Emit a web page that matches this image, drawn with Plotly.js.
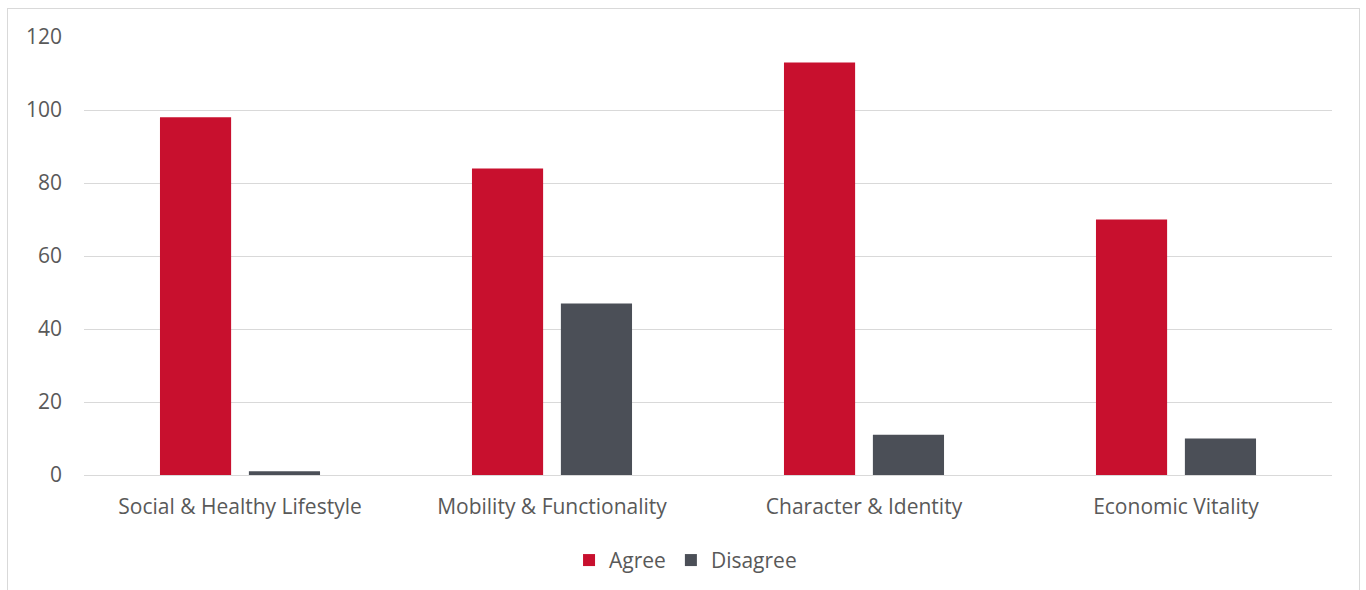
<!DOCTYPE html>
<html>
<head>
<meta charset="utf-8">
<script src="https://cdn.plot.ly/plotly-3.0.1.min.js"></script>
<style>
  html, body { margin: 0; padding: 0; background: #fff; }
  #frame { position: absolute; left: 7px; top: 8px; width: 1353px; height: 600px;
           border: 1px solid #d9d9d9; box-sizing: border-box; pointer-events: none; z-index: 5; }
  #chart { position: absolute; left: 0; top: 0; width: 1366px; height: 590px; }
</style>
</head>
<body>
<div id="chart"></div>
<div id="frame"></div>
<script>
// Survey responses per theme
const categories = ["Social & Healthy Lifestyle", "Mobility & Functionality", "Character & Identity", "Economic Vitality"];
const agree = [98, 84, 113, 70];
const disagree = [1, 47, 11, 10];
const yTicks = [0, 20, 40, 60, 80, 100, 120];

const font = { family: "Open Sans, sans-serif", size: 21, color: "#595959" };

const traces = [
  { type: "bar", name: "Agree", x: categories, y: agree,
    marker: { color: "#c8102e" }, hoverinfo: "x+y+name" },
  { type: "bar", name: "Disagree", x: categories, y: disagree,
    marker: { color: "#4b4f57" }, hoverinfo: "x+y+name" }
];

const layout = {
  width: 1366, height: 590,
  margin: { l: 84, r: 34, t: 37, b: 115, autoexpand: false },
  paper_bgcolor: "#ffffff", plot_bgcolor: "#ffffff",
  font: font,
  barmode: "group",
  bargap: 0.43,
  bargroupgap: 0.2,
  showlegend: true,
  legend: { orientation: "h", x: 0.482, xanchor: "center", y: -0.195, yanchor: "middle",
            font: font, itemwidth: 30 },
  xaxis: { type: "category", showgrid: false, zeroline: false, showline: false,
           automargin: false, ticks: "", ticklabelstandoff: 17, tickfont: font },
  yaxis: { range: [0, 120], tickvals: yTicks, ticktext: yTicks.map(String),
           automargin: false,
           showgrid: true, gridcolor: "#d9d9d9", gridwidth: 1,
           zeroline: true, zerolinecolor: "#d9d9d9", zerolinewidth: 1,
           showline: false, ticks: "", ticklabelstandoff: 21, tickfont: font }
};

Plotly.newPlot("chart", traces, layout, { displayModeBar: false, staticPlot: true });
</script>
</body>
</html>
